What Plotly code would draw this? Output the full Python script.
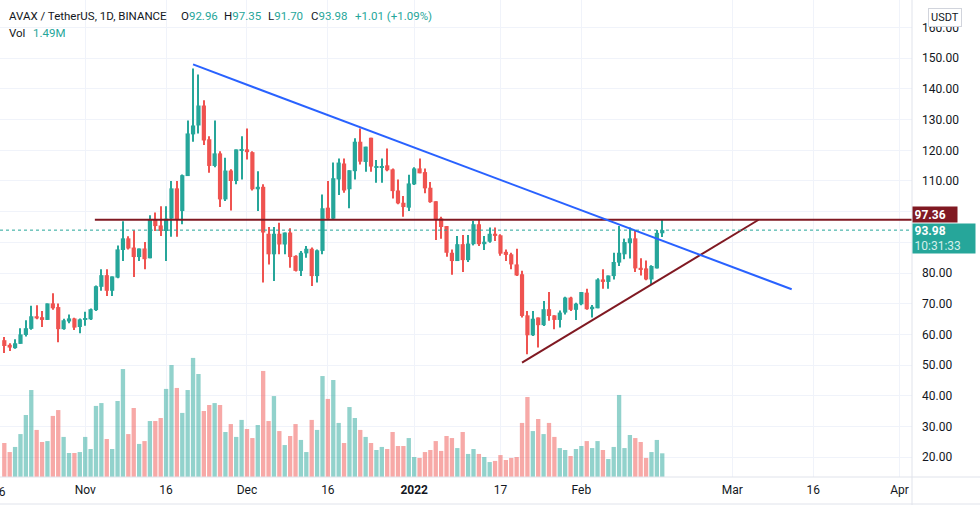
import pandas as pd
import plotly.graph_objects as go

# daily AVAX/USDT candles, 17 Oct 2021 -> 16 Feb 2022
start_day = "2021-10-17"
n_days = 123

open_ = [58.1, 56.6, 55.5, 56.9, 59.8, 61.8, 65.9, 65.6, 64.7, 70.1,
         68.9, 61.7, 64.2, 65.2, 62.4, 64.7, 64.9, 67.9, 75.5, 79.3,
         74.2, 78.5, 87.5, 91.3, 88.3, 85.2, 88.0, 84.8, 97.5, 95.5,
         93.7, 97.7, 107.6, 100.2, 111.6, 125.2, 128.1, 134.6, 123.6, 114.9,
         119.0, 104.0, 113.4, 110.0, 120.0, 120.3, 119.4, 107.3, 108.1, 92.8,
         86.1, 92.8, 89.3, 93.2, 85.6, 80.7, 86.4, 87.9, 79.0, 87.2,
         101.3, 97.7, 110.5, 115.7, 107.3, 113.2, 122.8, 116.2, 124.1, 114.5,
         114.5, 115.1, 113.8, 106.9, 102.9, 101.3, 108.9, 114.1, 112.9, 107.8,
         103.4, 97.8, 95.3, 86.6, 83.9, 89.4, 84.2, 89.4, 95.9, 89.4,
         90.2, 92.8, 92.3, 86.9, 86.1, 82.8, 79.6, 66.2, 59.7, 65.5,
         63.0, 68.2, 66.2, 64.7, 67.1, 72.0, 68.0, 69.8, 73.6, 68.2,
         68.5, 77.9, 77.1, 79.0, 83.4, 86.1, 89.7, 91.3, 81.7, 81.5,
         77.9, 81.5, 92.96]
high = [59.1, 57.1, 58.4, 62.0, 64.6, 69.3, 69.5, 67.6, 70.1, 73.4,
        70.1, 65.1, 66.5, 65.4, 65.2, 67.4, 68.4, 75.9, 81.2, 81.2,
        78.9, 89.0, 96.9, 92.0, 93.9, 88.0, 90.1, 98.8, 99.7, 101.8,
        101.8, 110.0, 110.0, 112.1, 129.7, 146.7, 144.7, 136.3, 124.6, 129.7,
        119.7, 117.6, 113.8, 120.3, 124.6, 127.1, 119.7, 113.2, 108.9, 95.0,
        95.0, 96.4, 93.2, 94.6, 85.8, 87.2, 88.8, 88.3, 87.7, 105.6,
        110.0, 116.0, 117.3, 117.3, 113.5, 123.9, 127.1, 121.2, 124.1, 116.8,
        117.3, 120.6, 114.1, 110.5, 105.1, 112.0, 114.5, 117.3, 114.1, 109.7,
        103.4, 98.3, 95.3, 87.7, 92.1, 92.4, 92.4, 97.0, 97.3, 92.1,
        94.8, 94.8, 92.6, 87.7, 86.6, 87.9, 80.7, 67.6, 67.6, 65.5,
        70.9, 73.8, 66.2, 67.8, 72.3, 72.3, 70.3, 73.8, 74.9, 69.6,
        78.3, 81.2, 79.2, 86.6, 95.3, 91.2, 94.8, 94.0, 84.8, 84.1,
        82.5, 94.0, 97.35]
low = [53.9, 54.6, 55.3, 56.9, 59.3, 61.5, 64.9, 62.4, 64.7, 68.0,
       57.4, 61.5, 63.6, 61.4, 60.4, 62.8, 64.7, 67.6, 74.2, 72.5,
       72.5, 78.3, 83.9, 87.7, 78.7, 83.9, 81.2, 84.8, 93.7, 92.1,
       83.9, 91.8, 91.8, 95.9, 111.6, 122.8, 125.5, 121.7, 112.7, 114.5,
       101.5, 103.5, 100.4, 108.9, 110.5, 117.0, 106.9, 100.2, 76.9, 82.8,
       77.4, 86.1, 86.1, 81.7, 80.5, 79.0, 85.0, 75.8, 76.9, 86.1,
       97.5, 97.5, 105.4, 106.2, 101.1, 110.5, 115.4, 113.0, 113.0, 109.4,
       109.4, 113.2, 104.3, 102.4, 98.3, 100.2, 108.7, 112.5, 106.0, 102.9,
       90.8, 91.2, 85.3, 79.4, 83.9, 80.3, 83.6, 89.0, 88.8, 87.5,
       89.9, 90.4, 85.6, 83.9, 81.2, 79.0, 65.5, 53.5, 59.5, 55.7,
       62.7, 64.4, 61.7, 62.2, 66.5, 67.6, 64.7, 69.5, 68.0, 65.5,
       68.5, 74.9, 74.9, 77.9, 82.3, 84.5, 84.7, 80.3, 79.2, 77.6,
       76.3, 81.5, 91.70]
close = [56.2, 55.7, 57.1, 60.0, 62.0, 65.9, 65.2, 64.7, 70.1, 68.5,
         61.7, 64.6, 65.2, 62.2, 64.9, 65.2, 68.2, 75.7, 79.3, 74.2,
         78.9, 87.7, 91.3, 88.0, 85.2, 88.0, 84.5, 97.5, 95.3, 93.7,
         97.7, 107.6, 97.5, 111.9, 125.5, 128.1, 134.6, 123.2, 114.9, 119.0,
         104.0, 113.4, 110.0, 120.3, 120.3, 119.4, 107.3, 108.1, 93.2, 86.1,
         92.8, 89.3, 93.2, 85.2, 80.7, 86.6, 87.9, 79.0, 87.4, 101.1,
         97.7, 110.9, 116.0, 106.9, 113.5, 122.8, 116.3, 121.2, 114.7, 114.7,
         114.8, 113.5, 106.7, 102.7, 101.5, 109.2, 114.1, 112.5, 107.6, 103.1,
         97.5, 95.0, 86.6, 83.9, 89.4, 84.2, 89.6, 95.9, 89.4, 90.2,
         92.8, 92.1, 86.3, 85.9, 82.8, 79.2, 66.0, 59.7, 65.1, 63.0,
         68.2, 66.0, 64.7, 67.1, 72.0, 68.0, 70.0, 73.8, 68.2, 69.0,
         77.9, 77.1, 79.2, 83.6, 86.6, 90.1, 91.3, 81.5, 81.2, 77.9,
         82.3, 93.1, 93.98]
# volume in millions
volume = [2.14, 1.57, 1.89, 2.70, 3.90, 5.47, 2.96, 2.20, 2.26, 3.84,
          4.21, 2.52, 1.51, 1.51, 1.57, 2.52, 1.76, 4.47, 4.65, 2.39,
          1.76, 4.78, 6.79, 2.70, 4.34, 2.08, 2.26, 3.52, 3.52, 3.71,
          5.54, 7.04, 5.60, 4.03, 5.47, 7.49, 6.48, 4.15, 4.53, 4.65,
          4.53, 2.83, 3.33, 2.52, 3.59, 3.02, 2.45, 3.27, 6.67, 3.52,
          5.09, 2.89, 2.01, 2.58, 3.33, 2.33, 1.57, 3.59, 2.96, 6.35,
          4.91, 6.10, 3.40, 2.14, 4.40, 3.71, 2.96, 2.52, 2.14, 1.70,
          1.89, 1.76, 2.83, 1.95, 1.95, 2.45, 1.26, 1.20, 1.57, 1.70,
          2.26, 1.64, 2.58, 2.45, 1.82, 2.83, 1.45, 1.76, 1.45, 1.26,
          0.94, 1.01, 1.38, 1.07, 1.20, 1.26, 3.40, 5.03, 2.89, 3.65,
          2.70, 3.40, 2.52, 1.82, 1.70, 1.32, 1.76, 1.95, 2.26, 1.82,
          2.26, 1.70, 1.13, 1.89, 5.16, 1.82, 2.64, 2.45, 2.20, 1.20,
          1.57, 2.33, 1.49]

# drawn lines
resistance_x = ["2021-11-21", "2022-03-12"]
resistance_y = [148.0, 74.7]
support_x = ["2022-01-21", "2022-03-05 21:00"]
support_y = [50.8, 97.36]
level_x = ["2021-11-02 19:00", "2022-04-20"]
level_price = 97.36
last_price = 93.98

tick_dates = ["2021-11-01", "2021-11-16", "2021-12-01", "2021-12-16",
              "2022-01-01", "2022-01-17", "2022-02-01", "2022-03-01", "2022-03-16",
              "2022-04-01"]
tick_text = ["Nov", "16", "Dec", "16", "<b>2022</b>", "17", "Feb", "Mar", "16", "Apr"]
first_tick = "16"  # Oct 16, half cut off at the left edge

price_ticks = [20, 30, 40, 50, 60, 70, 80, 90, 100, 110, 120, 130, 140, 150, 160]
# 90 and 100 sit under the price tags on the scale
price_text = ["" if p in (90, 100) else "%.2f" % p for p in price_ticks]

UP = "#26a69a"
DOWN = "#ef5350"
UP_VOL = "rgba(38,166,154,0.5)"
DOWN_VOL = "rgba(239,83,80,0.5)"
MAROON = "#801922"
BLUE = "#2962ff"
TEXT = "#131722"
GRID = "#f0f3fa"
BORDER = "#e0e3eb"
FONT = "Roboto"

DAY_MS = 86400000
dates = pd.date_range(start_day, periods=n_days, freq="D")
rising = [c >= o for o, c in zip(open_, close)]
candle_col = [UP if r else DOWN for r in rising]
vol_col = [UP_VOL if r else DOWN_VOL for r in rising]
body_base = [min(o, c) for o, c in zip(open_, close)]
body_h = [max(abs(c - o), 0.3) for o, c in zip(open_, close)]
wick_h = [h - l for h, l in zip(high, low)]

fig = go.Figure()
fig.add_trace(go.Bar(x=dates, y=volume, yaxis="y2", width=0.8 * DAY_MS,
                     marker=dict(color=vol_col, line_width=0), hoverinfo="skip"))
fig.add_trace(go.Bar(x=dates, y=wick_h, base=low, width=0.19 * DAY_MS,
                     marker=dict(color=candle_col, line_width=0), hoverinfo="skip"))
fig.add_trace(go.Bar(x=dates, y=body_h, base=body_base, width=0.78 * DAY_MS,
                     marker=dict(color=candle_col, line_width=0), hoverinfo="skip"))
fig.add_trace(go.Scatter(x=level_x, y=[level_price, level_price], mode="lines",
                         line=dict(color=MAROON, width=2), hoverinfo="skip"))
fig.add_trace(go.Scatter(x=support_x, y=support_y, mode="lines",
                         line=dict(color=MAROON, width=2), hoverinfo="skip"))
fig.add_trace(go.Scatter(x=resistance_x, y=resistance_y, mode="lines",
                         line=dict(color=BLUE, width=2), hoverinfo="skip"))

# current price dotted line
fig.add_shape(type="line", xref="paper", x0=0, x1=1, yref="y", y0=last_price, y1=last_price,
              line=dict(color=UP, width=1, dash="dot"))
# pane borders
fig.add_shape(type="line", xref="paper", x0=1, x1=1, yref="paper", y0=-28 / 477, y1=1,
              line=dict(color=BORDER, width=1))
fig.add_shape(type="line", xref="paper", x0=0, x1=980 / 912, yref="paper", y0=0, y1=0,
              line=dict(color=BORDER, width=1))
fig.add_shape(type="line", xref="paper", x0=0, x1=980 / 912, yref="paper", y0=-27 / 477, y1=-27 / 477,
              line=dict(color=BORDER, width=1))

ann = []


def legend_text(txt, x, y, color=TEXT):
    ann.append(dict(text=txt, xref="paper", yref="paper", x=0, y=1, xshift=x, yshift=-y,
                    xanchor="left", yanchor="middle", showarrow=False,
                    font=dict(family=FONT, size=11.5, color=color)))


legend_text("AVAX / TetherUS, 1D, BINANCE", 7, 15.5)
legend_text("O<span style='color:%s'>92.96</span>" % UP, 179, 15.5)
legend_text("H<span style='color:%s'>97.35</span>" % UP, 222, 15.5)
legend_text("L<span style='color:%s'>91.70</span>" % UP, 266, 15.5)
legend_text("C<span style='color:%s'>93.98</span>" % UP, 309, 15.5)
legend_text("+1.01 (+1.09%)", 353, 15.5, UP)
legend_text("Vol", 7, 33)
legend_text("1.49M", 31, 33, UP)

# price-scale labels
ann.append(dict(text="USDT", xref="paper", yref="paper", x=1, y=1, xshift=33, yshift=-17,
                xanchor="center", yanchor="middle", showarrow=False,
                bordercolor="#d1d4dc", borderwidth=1, borderpad=2, bgcolor="white",
                font=dict(family=FONT, size=11, color=TEXT)))
ann.append(dict(text="<b>%.2f</b>" % level_price, xref="paper", yref="y", x=1, y=level_price,
                xanchor="left", yanchor="middle", yshift=5.5, showarrow=False, align="left",
                bgcolor=MAROON, width=41, height=12, borderpad=1.5,
                font=dict(family=FONT, size=12, color="white")))
ann.append(dict(text="<b>%.2f</b><br><span style='color:#d4efec'>10:31:33</span>" % last_price,
                xref="paper", yref="y", x=1, y=last_price, xanchor="left", yanchor="middle",
                yshift=-8, showarrow=False, align="left", bgcolor=UP, width=59, height=26,
                borderpad=1.5, font=dict(family=FONT, size=12, color="white")))
# clipped first date label at the left edge
ann.append(dict(text=first_tick, xref="paper", yref="paper", x=0, y=0, xshift=-1, yshift=-15,
                xanchor="center", yanchor="middle", showarrow=False,
                font=dict(family=FONT, size=12, color=TEXT)))

fig.update_layout(
    width=980, height=505,
    margin=dict(l=0, r=68, t=0, b=28),
    paper_bgcolor="white", plot_bgcolor="white",
    barmode="overlay", showlegend=False, hovermode=False,
    font=dict(family=FONT, size=12, color=TEXT),
    annotations=ann,
    xaxis=dict(type="date", range=["2021-10-16 04:52", "2022-04-03 07:26"],
               tickvals=tick_dates, ticktext=tick_text, ticks="",
               showgrid=True, gridcolor=GRID, gridwidth=1, zeroline=False,
               showline=False, tickfont=dict(family=FONT, size=12, color=TEXT),
               ticklabelstandoff=4),
    yaxis=dict(side="right", range=[13.5, 169.0], tickvals=price_ticks, ticktext=price_text,
               ticks="", showgrid=True, gridcolor=GRID, gridwidth=1, zeroline=False,
               showline=False, tickfont=dict(family=FONT, size=12, color=TEXT),
               ticklabelstandoff=9),
    yaxis2=dict(overlaying="y", range=[0, 30.0], visible=False, showgrid=False),
)

# the page body has a default 8px margin; drop it so the chart sits at the window corner
fig.write_html("out.html", config={"displayModeBar": False},
               post_script="document.body.style.margin='0';")
